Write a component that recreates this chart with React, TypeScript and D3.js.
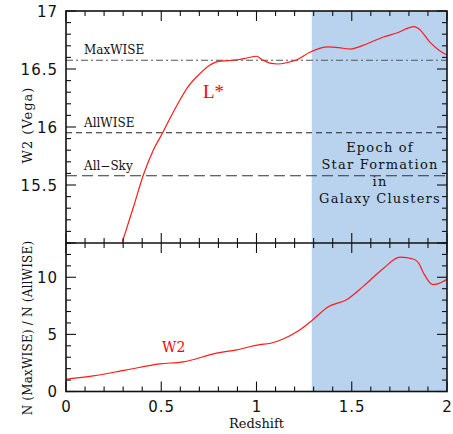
import React from "react"
import * as d3 from "d3"

// L* apparent W2 magnitude vs redshift (upper panel)
const lstarZ = [0.296, 0.354, 0.406, 0.458, 0.506, 0.546, 0.598, 0.642, 0.703, 0.756, 0.8, 0.85, 0.9, 0.95, 1.0, 1.03, 1.07, 1.11, 1.16, 1.21, 1.28, 1.377, 1.43, 1.49, 1.578, 1.666, 1.736, 1.827, 1.85, 1.911, 1.96, 2.0]
const lstarW2 = [15.01, 15.31, 15.586, 15.8, 15.946, 16.075, 16.233, 16.35, 16.46, 16.534, 16.566, 16.572, 16.58, 16.595, 16.61, 16.58, 16.55, 16.543, 16.555, 16.578, 16.644, 16.69, 16.685, 16.672, 16.716, 16.776, 16.81, 16.865, 16.85, 16.73, 16.66, 16.62]

// survey depth limits
const depthNames = ["MaxWISE", "AllWISE", "All\u2212Sky"]
const depthW2 = [16.575, 15.95, 15.58]

// number ratio MaxWISE / AllWISE (lower panel)
const ratioZ = [0, 0.143, 0.318, 0.493, 0.616, 0.79, 0.896, 1.018, 1.07, 1.14, 1.21, 1.29, 1.377, 1.473, 1.56, 1.666, 1.753, 1.823, 1.85, 1.876, 1.925, 1.946, 2.0]
const ratioN = [1.07, 1.36, 1.89, 2.42, 2.6, 3.36, 3.65, 4.11, 4.2, 4.59, 5.2, 6.2, 7.42, 8.04, 9.2, 10.77, 11.76, 11.6, 11.27, 10.4, 9.36, 9.4, 9.83]

const epochStart = 1.29
const epochEnd = 2.0
const epochLines = ["Epoch of", "Star Formation", "in", "Galaxy Clusters"]

const xTickLabels = [0, 0.5, 1, 1.5, 2]
const topTickLabels = [17, 16.5, 16, 15.5]
const botTickLabels = [0, 5, 10]

const W = 453
const H = 434
const L = 66
const R = 447
const TOP = 11
const MID = 243
const BOT = 391.5

export default function App() {
    const x = d3.scaleLinear().domain([0, 2]).range([L, R])
    const yTop = d3.scaleLinear().domain([15, 17]).range([MID, TOP])
    const yBot = d3.scaleLinear().domain([0, 13]).range([BOT, MID])

    const lineTop = d3
        .line<number>()
        .x((d, i) => x(lstarZ[i]))
        .y((d) => yTop(d))
        .curve(d3.curveMonotoneX)
    const lineBot = d3
        .line<number>()
        .x((d, i) => x(ratioZ[i]))
        .y((d) => yBot(d))
        .curve(d3.curveMonotoneX)

    const xMinor = d3.range(0, 21).map((i) => i / 10)
    const topMinor = d3.range(0, 21).map((i) => 15 + i / 10)
    const botMinor = d3.range(0, 14)

    const isMajor = (v: number, step: number) =>
        Math.abs(v / step - Math.round(v / step)) < 1e-6

    const tickColor = "#111"
    const ticks: JSX.Element[] = []
    // x ticks: top of upper panel, both sides of middle line, bottom of lower
    xMinor.forEach((v, i) => {
        const len = isMajor(v, 0.5) ? 10 : 5
        const px = x(v)
        ticks.push(<line key={"xt" + i} x1={px} x2={px} y1={TOP} y2={TOP + len} />)
        ticks.push(<line key={"xm1" + i} x1={px} x2={px} y1={MID} y2={MID - len} />)
        ticks.push(<line key={"xm2" + i} x1={px} x2={px} y1={MID} y2={MID + len} />)
        ticks.push(<line key={"xb" + i} x1={px} x2={px} y1={BOT} y2={BOT - len} />)
    })
    topMinor.forEach((v, i) => {
        const len = isMajor(v, 0.5) ? 10 : 5
        const py = yTop(v)
        ticks.push(<line key={"tl" + i} x1={L} x2={L + len} y1={py} y2={py} />)
        ticks.push(<line key={"tr" + i} x1={R} x2={R - len} y1={py} y2={py} />)
    })
    botMinor.forEach((v, i) => {
        const len = isMajor(v, 5) ? 10 : 5
        const py = yBot(v)
        ticks.push(<line key={"bl" + i} x1={L} x2={L + len} y1={py} y2={py} />)
        ticks.push(<line key={"br" + i} x1={R} x2={R - len} y1={py} y2={py} />)
    })

    const dashes = ["7,3,2,3", "6,4", "11,5"]
    const dashColors = ["#555", "#222", "#333"]
    const labelY = [-6, -6, -6]

    const tickFont = {
        fontFamily: "DejaVu Sans",
        fontSize: 15,
        letterSpacing: 1,
        fill: "#111",
    }
    const serif = "DejaVu Serif"

    return (
        <svg
            width={W}
            height={H}
            style={{ position: "absolute", left: 0, top: 0, background: "#fff" }}
        >
            {/* shaded epoch */}
            <rect
                x={x(epochStart)}
                y={TOP}
                width={x(epochEnd) - x(epochStart)}
                height={BOT - TOP}
                fill="#b9d3ee"
            />

            {/* depth limits */}
            {depthW2.map((v, i) => (
                <g key={"d" + i}>
                    <line
                        x1={L}
                        x2={R}
                        y1={yTop(v)}
                        y2={yTop(v)}
                        stroke={dashColors[i]}
                        strokeWidth={1.1}
                        strokeDasharray={dashes[i]}
                    />
                    <text
                        x={84}
                        y={yTop(v) + labelY[i]}
                        fontFamily={serif}
                        fontSize={12}
                        fill="#111"
                    >
                        {depthNames[i]}
                    </text>
                </g>
            ))}

            <clipPath id="clipTop">
                <rect x={L} y={TOP} width={R - L} height={MID - TOP} />
            </clipPath>
            <path
                d={lineTop(lstarW2) || ""}
                fill="none"
                stroke="#ff1a1a"
                strokeWidth={1.2}
                clipPath="url(#clipTop)"
            />
            <path
                d={lineBot(ratioN) || ""}
                fill="none"
                stroke="#ff1a1a"
                strokeWidth={1.2}
            />

            <text x={203} y={98} fontFamily="Liberation Serif" fontSize={19} fill="#ff0000">
                L*
            </text>
            <text x={162} y={352} fontFamily={serif} fontSize={14} fill="#ff0000">
                W2
            </text>

            {epochLines.map((t, i) => (
                <text
                    key={"e" + i}
                    x={380}
                    y={152 + i * 17}
                    textAnchor="middle"
                    fontFamily={serif}
                    fontSize={13}
                    letterSpacing={1.2}
                    fill="#111"
                >
                    {t}
                </text>
            ))}

            {/* frame */}
            <g stroke={tickColor} strokeWidth={1.1}>
                {ticks}
            </g>
            <rect
                x={L}
                y={TOP}
                width={R - L}
                height={BOT - TOP}
                fill="none"
                stroke={tickColor}
                strokeWidth={1.6}
            />
            <line x1={L} x2={R} y1={MID} y2={MID} stroke={tickColor} strokeWidth={1.6} />

            {/* tick labels */}
            {topTickLabels.map((v) => (
                <text key={"tt" + v} x={58} y={yTop(v) + 5.5} textAnchor="end" {...tickFont}>
                    {v}
                </text>
            ))}
            {botTickLabels.map((v) => (
                <text key={"bt" + v} x={58} y={yBot(v) + 5.5} textAnchor="end" {...tickFont}>
                    {v}
                </text>
            ))}
            {xTickLabels.map((v) => (
                <text key={"xl" + v} x={x(v) + 0.5} y={412} textAnchor="middle" {...tickFont}>
                    {v}
                </text>
            ))}

            {/* axis titles */}
            <text x={256.5} y={428} textAnchor="middle" fontFamily={serif} fontSize={13} fill="#111">
                Redshift
            </text>
            <text
                transform={`translate(32,125) rotate(-90)`}
                textAnchor="middle"
                fontFamily={serif}
                fontSize={13}
                letterSpacing={1}
                fill="#111"
            >
                W2 (Vega)
            </text>
            <text
                transform={`translate(32,328) rotate(-90)`}
                textAnchor="middle"
                fontFamily={serif}
                fontSize={12}
                letterSpacing={0.2}
                fill="#111"
            >
                N (MaxWISE) / N (AllWISE)
            </text>
        </svg>
    )
}
